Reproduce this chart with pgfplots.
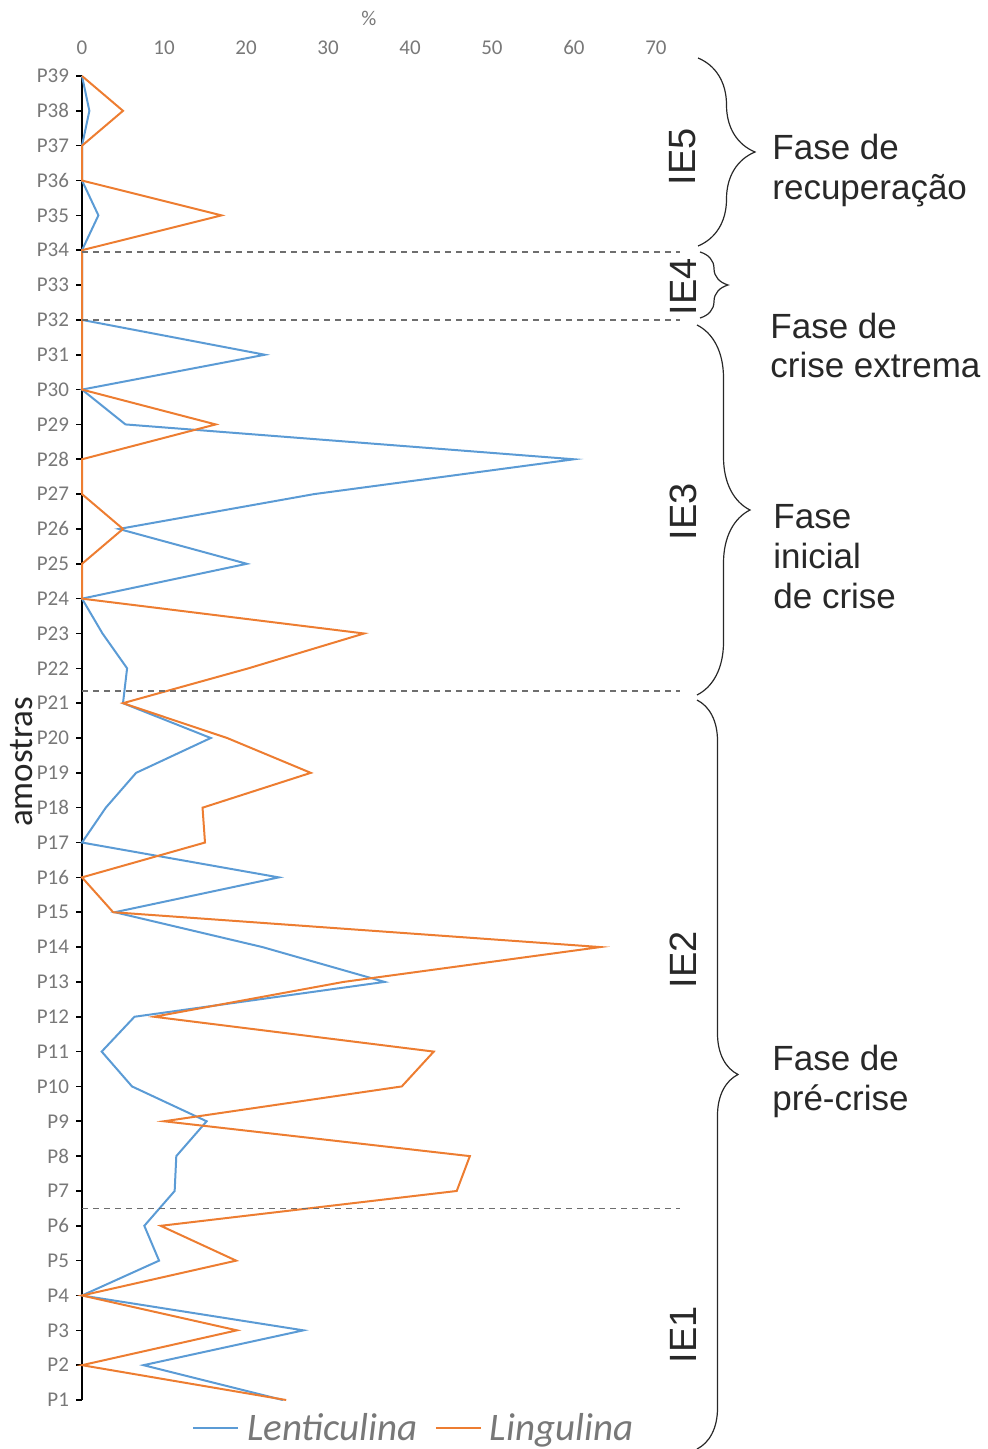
\documentclass[border=0pt]{standalone}
\usepackage{pgfplots}
\pgfplotsset{compat=1.18}
\usepackage{pgfplotstable}
\usepackage{fontspec}
\setmainfont{Carlito}
\newfontfamily\arialf{Liberation Sans}
\usetikzlibrary{decorations.pathreplacing}
\definecolor{lblue}{RGB}{91,155,213}
\definecolor{lorange}{RGB}{237,125,49}
\definecolor{tickgray}{RGB}{120,120,120}
\definecolor{dashgray}{RGB}{110,110,110}
\definecolor{annot}{RGB}{40,40,40}

\pgfplotstableread{
idx L G
1 24.5 24.9
2 7.5 0
3 27.0 18.9
4 0 0
5 9.4 18.8
6 7.6 9.6
7 11.3 45.7
8 11.5 47.3
9 15.2 10.0
10 6.1 39.0
11 2.4 42.9
12 6.4 8.8
13 36.9 31.9
14 22.0 63.2
15 4.0 3.8
16 24.0 0
17 0 15.0
18 2.9 14.7
19 6.6 27.9
20 15.7 17.7
21 5.0 5.0
22 5.5 20.3
23 2.5 34.4
24 0 0
25 20.1 0
26 4.5 5.0
27 28.3 0
28 60.0 0
29 5.3 16.3
30 0 0
31 22.3 0
32 0 0
33 0 0
34 0 0
35 2.0 17.0
36 0 0
37 0 0
38 0.9 5.0
39 0 0
}\datatable

\begin{document}
\begin{tikzpicture}
\begin{axis}[
  at={(41pt,-700pt)}, anchor=south west,
  scale only axis, width=287pt, height=662pt,
  xmin=0, xmax=70, ymin=1, ymax=39,
  clip=false,
  axis y line*=left,
  axis x line*=top,
  x axis line style={draw=none},
  y axis line style={black, line width=1pt},
  xtick={0,10,...,70},
  x tick style={draw=none},
  ytick={1,...,39},
  yticklabels={P1,P2,P3,P4,P5,P6,P7,P8,P9,P10,P11,P12,P13,P14,P15,P16,P17,P18,P19,P20,P21,P22,P23,P24,P25,P26,P27,P28,P29,P30,P31,P32,P33,P34,P35,P36,P37,P38,P39},
  y tick style={black, line width=0.8pt},
  tick align=outside, major tick length=3pt,
  ticklabel style={font=\fontsize{10.5}{12}\selectfont, text=tickgray},
  /pgf/number format/assume math mode=true,
  xticklabel style={anchor=base, yshift=8pt},
  xlabel={\%},
  every axis x label/.style={at={(axis description cs:0.5,1.0438)}, anchor=center, font=\fontsize{10.5}{12}\selectfont, text=tickgray},
  ylabel={amostras},
  every axis y label/.style={at={(axis description cs:-0.1045,0.482)}, rotate=90, anchor=center, font=\fontsize{17.5}{20}\selectfont, text=black!85},
  legend columns=2,
  legend style={at={(axis description cs:0.578,-0.0215)}, anchor=center, draw=none, fill=none,
    inner sep=0pt, nodes={inner sep=1pt},
    font=\fontsize{19.5}{22}\selectfont\itshape, text=tickgray,
    /tikz/every even column/.append style={column sep=7.5pt},
    /tikz/every odd column/.append style={column sep=3pt}},
  legend image code/.code={\draw[#1] (0pt,0pt) -- (22.5pt,0pt);},
]
\addplot[lblue, line width=1pt] table[x=L, y=idx] {\datatable};
\addlegendentry{Lenticulina}
\addplot[lorange, line width=1pt] table[x=G, y=idx] {\datatable};
\addlegendentry{Lingulina}
\draw[dashgray, line width=0.7pt, dash pattern=on 3pt off 2.5pt] (axis cs:0,33.95) -- (axis cs:72.9,33.95);
\draw[dashgray, line width=0.7pt, dash pattern=on 3pt off 2.5pt] (axis cs:0,32) -- (axis cs:72.9,32);
\draw[dashgray, line width=0.7pt, dash pattern=on 3pt off 2.5pt] (axis cs:0,21.35) -- (axis cs:72.9,21.35);
\draw[dashgray, line width=0.7pt, dash pattern=on 3pt off 2.5pt] (axis cs:0,6.5) -- (axis cs:72.9,6.5);
\end{axis}
\begin{scope}[x=0.5pt,y=-0.5pt]
\draw[annot, line width=0.6pt, decorate, decoration={brace, amplitude=28.5pt}] (698,58) -- (698,246);
\draw[annot, line width=0.6pt, decorate, decoration={brace, amplitude=14pt}] (700,252) -- (700,318);
\draw[annot, line width=0.6pt, decorate, decoration={brace, amplitude=26.5pt}] (697,325) -- (697,695);
\draw[annot, line width=0.6pt, decorate, decoration={brace, amplitude=20.5pt}] (697,700) -- (697,1449);
\tikzset{ie/.style={rotate=90, anchor=center, inner sep=0pt, text=annot, font=\arialf\fontsize{19}{22}\selectfont},
  ph/.style={anchor=base west, inner sep=0pt, text=annot, font=\arialf\fontsize{17.5}{20}\selectfont}}
\node[ie] at (683,157) {IE5};
\node[ie] at (683,287) {IE4};
\node[ie] at (683,512) {IE3};
\node[ie] at (683,960) {IE2};
\node[ie] at (683,1335) {IE1};
\node[ph] at (772,160) {Fase de};
\node[ph] at (772,200) {recuperação};
\node[ph] at (770,338) {Fase de};
\node[ph] at (770,378) {crise extrema};
\node[ph] at (773,528) {Fase};
\node[ph] at (773,568) {inicial};
\node[ph] at (773,608) {de crise};
\node[ph] at (772,1070) {Fase de};
\node[ph] at (772,1110) {pré-crise};
\pgfresetboundingbox
\path (0,0) rectangle (987,1449);
\end{scope}
\end{tikzpicture}
\end{document}
